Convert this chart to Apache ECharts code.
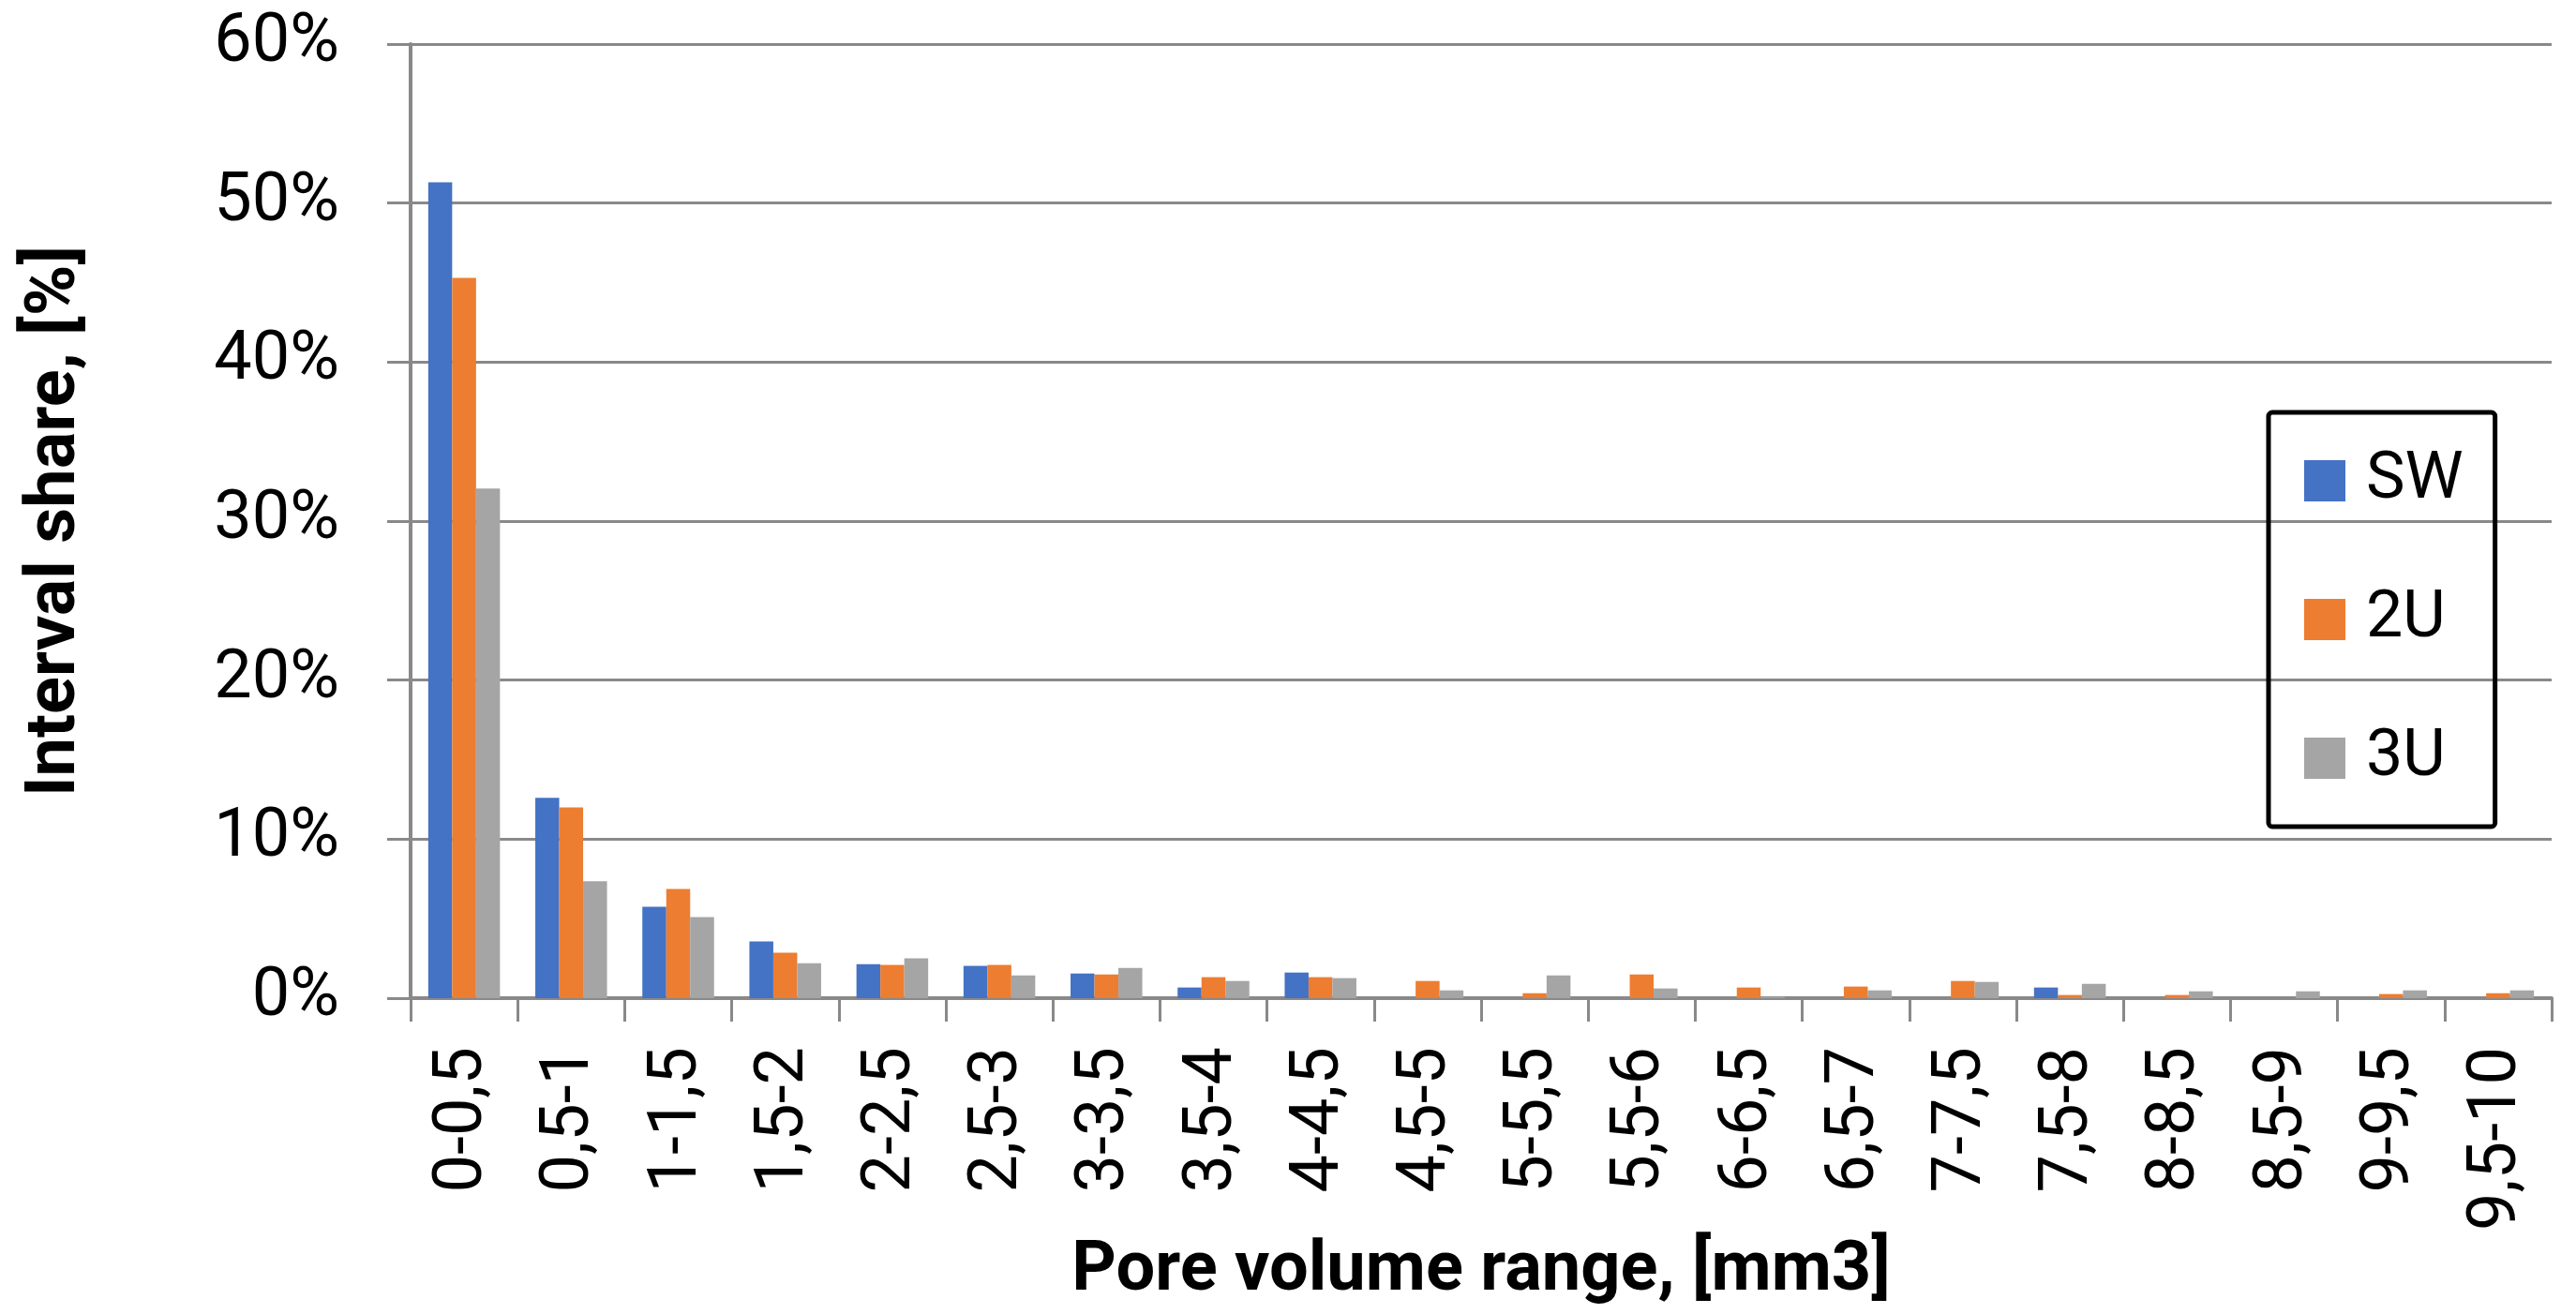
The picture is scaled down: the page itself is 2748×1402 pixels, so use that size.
<!DOCTYPE html>
<html>
<head>
<meta charset="utf-8">
<script src="https://cdn.jsdelivr.net/npm/echarts@6/dist/echarts.min.js"></script>
<style>
html,body{margin:0;padding:0;background:#fff;}
#chart{width:2748px;height:1402px;}
</style>
</head>
<body>
<div id="chart"></div>
<script>
const categories = ['0-0,5','0,5-1','1-1,5','1,5-2','2-2,5','2,5-3','3-3,5','3,5-4','4-4,5','4,5-5','5-5,5','5,5-6','6-6,5','6,5-7','7-7,5','7,5-8','8-8,5','8,5-9','9-9,5','9,5-10'];
const swValues = [51.3, 12.6, 5.75, 3.56, 2.14, 2.03, 1.55, 0.67, 1.61, 0, 0, 0, 0, 0, 0, 0.67, 0, 0, 0, 0];
const u2Values = [45.3, 12.0, 6.86, 2.86, 2.09, 2.09, 1.49, 1.32, 1.32, 1.08, 0.31, 1.49, 0.67, 0.73, 1.08, 0.2, 0.2, 0, 0.26, 0.31];
const u3Values = [32.05, 7.35, 5.1, 2.2, 2.5, 1.43, 1.9, 1.08, 1.26, 0.49, 1.43, 0.61, 0.08, 0.49, 1.02, 0.9, 0.43, 0.43, 0.49, 0.49];
const seriesNames = ['SW', '2U', '3U'];
const yTicks = { min: 0, max: 60, interval: 10 };

const FONT = 'Roboto';
const gridColor = '#898989';
const chart = echarts.init(document.getElementById('chart'));
chart.setOption({
  animation: false,
  backgroundColor: '#ffffff',
  color: ['#4472C4', '#ED7D31', '#A5A5A5'],
  textStyle: { fontFamily: FONT },
  grid: { left: 438, right: 26, top: 47, bottom: 337, containLabel: false, outerBoundsMode: 'none' },
  legend: {
    orient: 'vertical',
    left: 2420,
    top: 440,
    itemWidth: 44,
    itemHeight: 44,
    itemGap: 78,
    icon: 'rect',
    padding: [38, 34, 38, 38],
    borderColor: '#000',
    borderWidth: 5,
    borderRadius: 4,
    textStyle: { fontSize: 70, lineHeight: 44, color: '#000', fontFamily: FONT, padding: [0, 0, 0, 17] },
    data: seriesNames
  },
  xAxis: {
    type: 'category',
    data: categories,
    name: 'Pore volume range, [mm3]',
    nameLocation: 'middle',
    nameGap: 250,
    nameTextStyle: { fontSize: 74, fontWeight: 'bold', color: '#000', fontFamily: FONT },
    axisLine: { lineStyle: { color: gridColor, width: 4 } },
    axisTick: { show: true, length: 25, lineStyle: { color: gridColor, width: 3 } },
    axisLabel: { rotate: 90, fontSize: 72, color: '#000', margin: 52, fontFamily: FONT }
  },
  yAxis: {
    type: 'value',
    min: yTicks.min,
    max: yTicks.max,
    interval: yTicks.interval,
    name: 'Interval share, [%]',
    nameLocation: 'middle',
    nameGap: 341,
    nameTextStyle: { fontSize: 74, fontWeight: 'bold', color: '#000', fontFamily: FONT },
    axisLine: { show: true, lineStyle: { color: gridColor, width: 4 } },
    axisTick: { show: true, length: 25, lineStyle: { color: gridColor, width: 3 } },
    axisLabel: { formatter: '{value}%', fontSize: 72, color: '#000', margin: 76, fontFamily: FONT },
    splitLine: { show: true, lineStyle: { color: gridColor, width: 3 } }
  },
  series: [
    { name: seriesNames[0], type: 'bar', data: swValues, barGap: '0%', barCategoryGap: '33%' },
    { name: seriesNames[1], type: 'bar', data: u2Values, barGap: '0%', barCategoryGap: '33%' },
    { name: seriesNames[2], type: 'bar', data: u3Values, barGap: '0%', barCategoryGap: '33%' }
  ]
});
</script>
</body>
</html>
